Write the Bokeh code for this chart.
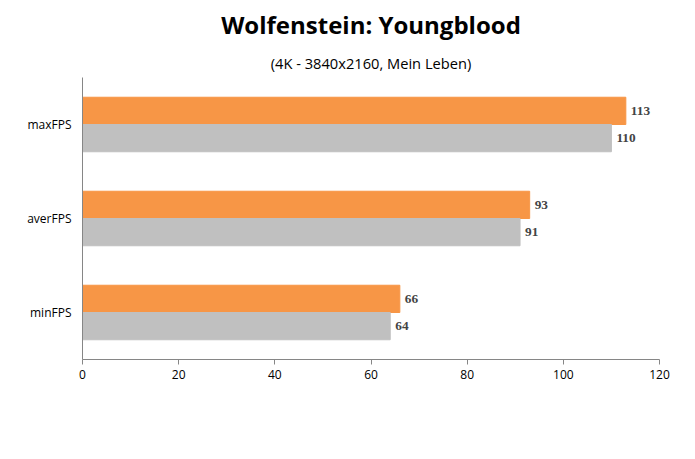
from bokeh.plotting import figure
from bokeh.models import FactorRange, ColumnDataSource, Title, Legend, LegendItem, LabelSet
from bokeh.transform import dodge
from bokeh.embed import file_html
from bokeh.resources import INLINE

categories = ["minFPS", "averFPS", "maxFPS"]
oc_values = [66, 93, 113]
base_values = [64, 91, 110]
series_names = ["GIGABYTE GeForce RTX 3080 Gaming OC (+70 МГц GPU)", "GIGABYTE GeForce RTX 3080 Gaming OC"]
colors = ["#F79646", "#C0C0C0"]

src = ColumnDataSource(dict(cat=categories, oc=oc_values, base=base_values,
                            oc_t=[str(v) for v in oc_values], base_t=[str(v) for v in base_values]))

p = figure(frame_width=577, frame_height=282, y_range=FactorRange(*categories), x_range=(0, 120),
           output_backend="svg", toolbar_location=None,
           min_border_left=82, min_border_right=20, min_border_top=4, min_border_bottom=4)
p.add_layout(Title(text="(4K - 3840x2160, Mein Leben)", align="center", text_font_size="11pt",
                   text_font_style="normal", text_font="Open Sans", text_color="black"), "above")
p.add_layout(Title(text="Wolfenstein: Youngblood", align="center", text_font_size="18pt",
                   text_font_style="bold", text_font="Open Sans", text_color="black"), "above")

r1 = p.hbar(y=dodge("cat", 0.145, range=p.y_range), right="oc", height=0.29, left=0,
            source=src, color=colors[0])
r2 = p.hbar(y=dodge("cat", -0.145, range=p.y_range), right="base", height=0.29, left=0,
            source=src, color=colors[1])
for col, tcol, off in [("oc", "oc_t", 0.145), ("base", "base_t", -0.145)]:
    p.add_layout(LabelSet(x=col, y=dodge("cat", off, range=p.y_range), text=tcol, source=src,
                          x_offset=5, text_baseline="middle", text_font_style="bold",
                          text_font_size="10pt", text_font="Open Sans"))

p.xaxis.ticker = [0, 20, 40, 60, 80, 100, 120]
for ax in (p.xaxis, p.yaxis):
    ax.axis_line_color = "#868686"
    ax.major_tick_line_color = "#868686"
    ax.minor_tick_line_color = None
    ax.major_label_text_font = "Open Sans"
    ax.major_label_text_font_size = "9pt"
    ax.major_label_text_color = "#000000"
p.xaxis.major_tick_in = 0
p.xaxis.major_tick_out = 5
p.yaxis.major_tick_line_color = None
p.xgrid.grid_line_color = None
p.ygrid.grid_line_color = None
p.outline_line_color = None

legend = Legend(items=[LegendItem(label=series_names[0], renderers=[r1]),
                       LegendItem(label=series_names[1], renderers=[r2])],
                location="center", orientation="vertical", border_line_color=None,
                label_text_font="Open Sans", label_text_font_size="9pt",
                glyph_width=8, glyph_height=8, spacing=6, margin=8)
p.add_layout(legend, "below")

open("out.html", "w").write(file_html(p, INLINE))
